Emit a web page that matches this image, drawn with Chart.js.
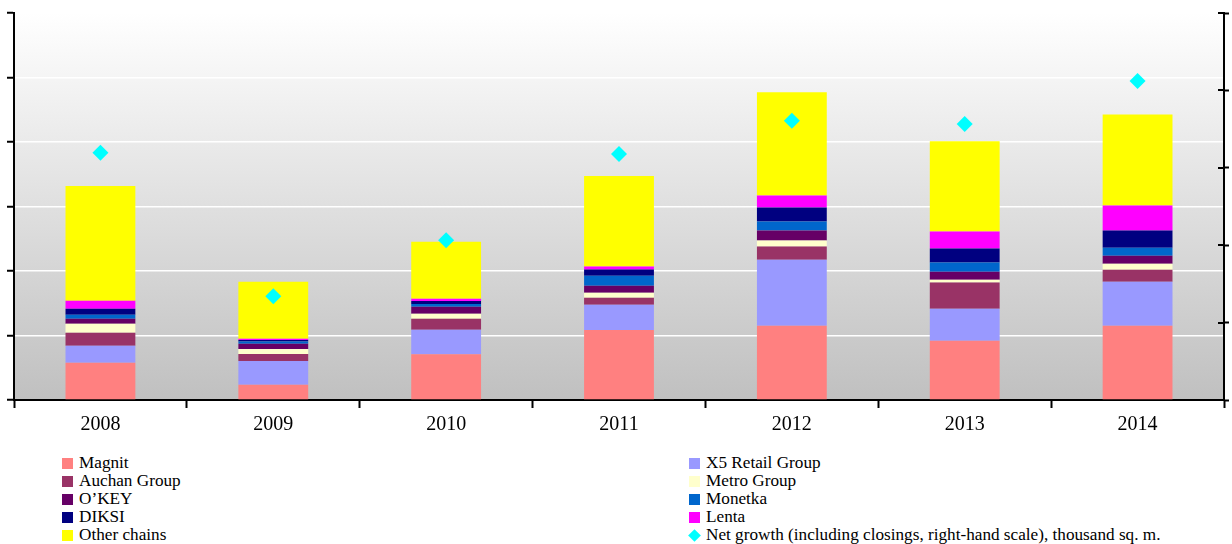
<!DOCTYPE html>
<html>
<head>
<meta charset="utf-8">
<script src="https://cdn.jsdelivr.net/npm/chart.js@4.4.1/dist/chart.umd.min.js"></script>
<style>
  html, body { margin: 0; padding: 0; background: #ffffff; }
  #wrap { position: relative; width: 1232px; height: 544px; overflow: hidden; }
  #cv { position: absolute; left: 0; top: 0; }
  .leg { position: absolute; font-family: "Liberation Serif", "Times New Roman", serif; font-size: 17.2px; color: #000; line-height: 18px; white-space: nowrap; }
  .leg .it { height: 18px; position: relative; padding-left: 17px; }
  .leg .sw { position: absolute; left: 0; top: 4px; width: 11px; height: 11px; }
  .leg .dia { position: absolute; left: 1px; top: 5px; width: 9px; height: 9px; transform: rotate(45deg); background: #00FFFF; }
</style>
</head>
<body>
<div id="wrap">
  <canvas id="cv" width="1232" height="442"></canvas>
  <div class="leg" id="leg1" style="left:62px; top:454px;"></div>
  <div class="leg" id="leg2" style="left:689px; top:454px;"></div>
</div>
<script>
const categories = ["2008", "2009", "2010", "2011", "2012", "2013", "2014"];
const magnit  = [288, 119, 355, 542, 575, 459, 575];
const x5      = [132, 184, 189, 197, 513, 249, 342];
const auchan  = [101,  54,  85,  54, 101, 202,  93];
const metro   = [ 70,  39,  39,  39,  47,  23,  47];
const okey    = [ 39,  41,  54,  54,  78,  62,  62];
const monetka = [ 31,  16,  23,  78,  70,  70,  62];
const diksi   = [ 47,  13,  23,  47, 109, 109, 132];
const lenta   = [ 62,   8,  16,  23,  93, 132, 194];
const other   = [888, 443, 443, 702, 800, 700, 707];
const netGrowth = [1597, 671, 1032, 1589, 1804, 1783, 2061];

const seriesNames = ["Magnit", "X5 Retail Group", "Auchan Group", "Metro Group", "O\u2019KEY", "Monetka", "DIKSI", "Lenta", "Other chains"];
const lineName = "Net growth (including closings, right-hand scale), thousand sq. m.";
const colors = ["#FF8080", "#9999FF", "#993366", "#FFFFCC", "#660066", "#0066CC", "#000080", "#FF00FF", "#FFFF00"];
const seriesData = [magnit, x5, auchan, metro, okey, monetka, diksi, lenta, other];

const bgPlugin = {
  id: 'bgGrad',
  beforeDraw(chart) {
    const {ctx, chartArea: a} = chart;
    const g = ctx.createLinearGradient(0, a.top, 0, a.bottom);
    g.addColorStop(0, '#ffffff');
    g.addColorStop(1, '#c0c0c0');
    ctx.save();
    ctx.fillStyle = g;
    ctx.fillRect(a.left, a.top, a.right - a.left, a.bottom - a.top);
    ctx.restore();
  }
};
const rightTicks = {
  id: 'rightTicks',
  afterDraw(chart) {
    const s = chart.scales.y1;
    const {ctx, chartArea: a} = chart;
    ctx.save();
    ctx.strokeStyle = '#000';
    ctx.lineWidth = 2;
    s.ticks.forEach(t => {
      const y = Math.round(s.getPixelForValue(t.value));
      ctx.beginPath();
      ctx.moveTo(a.right - 6, y);
      ctx.lineTo(a.right, y);
      ctx.stroke();
    });
    ctx.restore();
  }
};

const datasets = seriesData.map((d, i) => ({
  type: 'bar',
  label: seriesNames[i],
  data: d,
  backgroundColor: colors[i],
  borderWidth: 0,
  yAxisID: 'y',
  order: 1,
  categoryPercentage: 1.0,
  barPercentage: 0.404
}));
datasets.push({
  type: 'line',
  label: lineName,
  data: netGrowth,
  yAxisID: 'y1',
  showLine: false,
  pointStyle: 'rectRot',
  pointRadius: 8,
  pointHoverRadius: 8,
  pointBackgroundColor: '#00FFFF',
  pointBorderWidth: 0,
  borderColor: '#00FFFF',
  backgroundColor: '#00FFFF',
  order: 0
});

new Chart(document.getElementById('cv'), {
  data: { labels: categories, datasets },
  plugins: [bgPlugin, rightTicks],
  options: {
    responsive: false,
    animation: false,
    layout: { padding: { top: 13, left: 0, right: 0, bottom: 0 } },
    plugins: { legend: { display: false }, tooltip: { enabled: false } },
    scales: {
      x: {
        stacked: true,
        offset: true,
        grid: { display: true, offset: true, drawOnChartArea: false, drawTicks: true, tickLength: 8, tickColor: '#000', tickWidth: 2 },
        border: { display: true, color: '#000', width: 2 },
        ticks: { color: '#000', font: { family: 'Liberation Serif', size: 20 }, padding: 5 }
      },
      y: {
        position: 'left',
        stacked: true,
        min: 0, max: 3000,
        ticks: { stepSize: 500, display: false },
        grid: { color: '#ffffff', lineWidth: 1.5, drawTicks: true, tickLength: 7, tickColor: '#000', tickWidth: 2 },
        border: { display: true, color: '#000', width: 2 },
        afterFit(s) { s.width = 14; }
      },
      y1: {
        position: 'right',
        min: 0, max: 2500,
        ticks: { stepSize: 500, display: false },
        grid: { drawOnChartArea: false, drawTicks: true, tickLength: 5, tickColor: '#000', tickWidth: 2 },
        border: { display: true, color: '#000', width: 2 },
        afterFit(s) { s.width = 4; }
      }
    }
  }
});

function buildLegend(el, items) {
  items.forEach(it => {
    const d = document.createElement('div');
    d.className = 'it';
    const m = document.createElement('span');
    if (it.diamond) { m.className = 'dia'; } else { m.className = 'sw'; m.style.background = it.color; }
    d.appendChild(m);
    d.appendChild(document.createTextNode(it.label));
    el.appendChild(d);
  });
}
buildLegend(document.getElementById('leg1'), [0, 2, 4, 6, 8].map(i => ({label: seriesNames[i], color: colors[i]})));
buildLegend(document.getElementById('leg2'), [1, 3, 5, 7].map(i => ({label: seriesNames[i], color: colors[i]})).concat([{label: lineName, diamond: true}]));
</script>
</body>
</html>
